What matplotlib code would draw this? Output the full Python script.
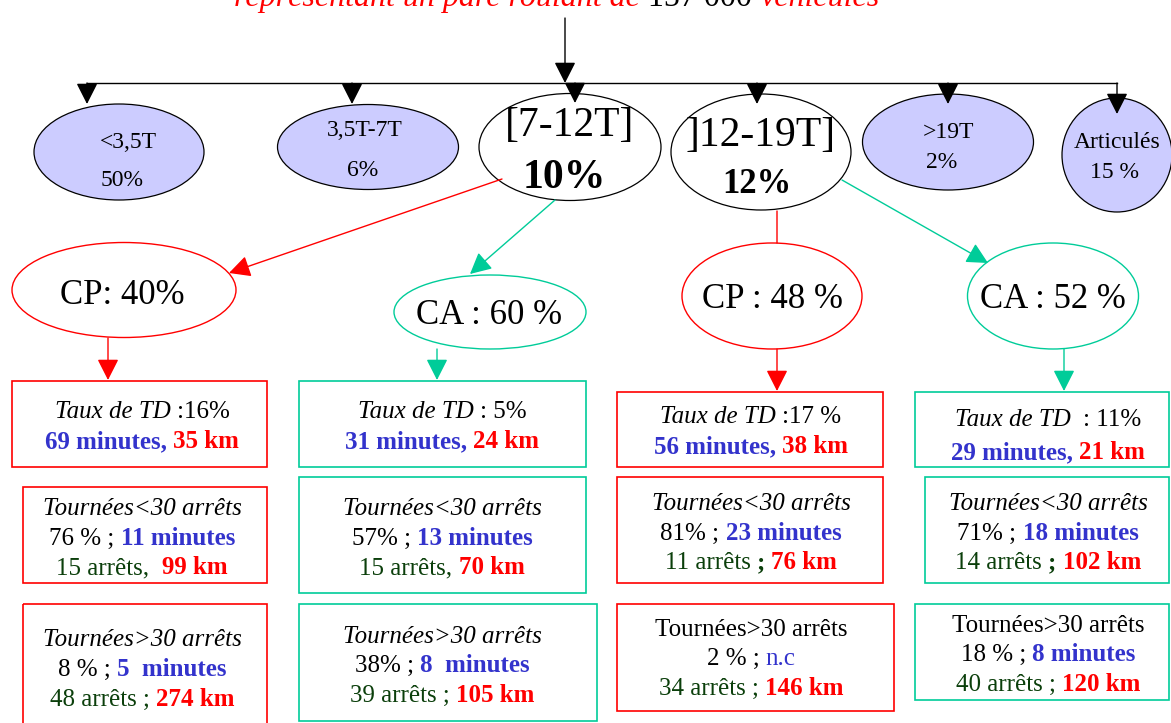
import matplotlib
matplotlib.use('Agg')
import matplotlib.pyplot as plt
from matplotlib.patches import Ellipse, Rectangle

# ---- data ----
title_before = 'représentant un parc roulant de '
fleet_size = '157 000'
title_after = ' véhicules'

tonnage_labels = ['<3,5T', '3,5T-7T', '[7-12T]', ']12-19T]', '>19T', 'Articulés']
tonnage_shares = ['50%', '6%', '10%', '12%', '2%', '15 %']

# CP = compte propre, CA = compte d'autrui
split_labels = ['CP: 40%', 'CA : 60 %', 'CP : 48 %', 'CA : 52 %']

td_rates = [' :16%', ' : 5%', ' :17 %', '  : 11%']
td_minutes = ['69 minutes, ', '31 minutes, ', '56 minutes, ', '29 minutes, ']
td_km = ['35 km', '24 km', '38 km', '21 km']

short_share = ['76 % ; ', '57% ; ', '81% ; ', '71% ; ']
short_minutes = ['11 minutes', '13 minutes', '23 minutes', '18 minutes']
short_stops = ['15 arrêts,  ', '15 arrêts, ', '11 arrêts ', '14 arrêts ']
short_sep = ['', '', '; ', '; ']
short_km = ['99 km', '70 km', '76 km', '102 km']

long_share = ['8 % ; ', '38% ; ', '2 % ; ', '18 % ; ']
long_minutes = ['5  minutes', '8  minutes', 'n.c', '8 minutes']
long_stops = ['48 arrêts ; ', '39 arrêts ; ', '34 arrêts ; ', '40 arrêts ; ']
long_km = ['274 km', '105 km', '146 km', '120 km']

# ---- layout (pixels, y down) ----
W, H = 1171, 723
SERIF = 'Liberation Serif'
RED = '#ff0000'
TEAL = '#00cc99'
BLUE = '#3333cc'
DKGREEN = '#0b3f0b'
LAVENDER = '#ccccff'

top_ell = [(119, 152, 170, 96), (368, 147, 181, 85), (570, 147, 182, 107),
           (761, 152, 180, 116), (948, 142, 171, 96), (1117, 155, 110, 114)]
top_fill = [LAVENDER, LAVENDER, 'white', 'white', LAVENDER, LAVENDER]
top_txt = [((128, 140), (122, 178)), ((365, 128), (363, 168)), ((570, 122), (564, 174)),
           ((761, 132), (757, 182)), ((949, 130), (942, 160)), ((1117, 140), (1115, 170))]
top_size = [(17, 17), (17, 17), (30, 30), (30, 25), (17, 17), (17, 17)]
top_bold = [False, False, True, True, False, False]
drop_x = [87, 352, 575, 757, 948, 1117]
drop_tip = [104, 104, 103, 104, 104, 114]

mid_ell = [(124, 290, 224, 95), (490, 312, 192, 74), (772, 296, 180, 106), (1053, 296, 171, 106)]
mid_txt = [(122, 293), (489, 313), (772, 297), (1053, 297)]
col_color = [RED, TEAL, RED, TEAL]

col_x = [142, 442, 751, 1048]
boxes = [
    [(12, 381, 267, 467), (23, 487, 267, 583), (23, 604, 267, 730)],
    [(299, 381, 586, 467), (299, 477, 586, 593), (299, 604, 597, 721)],
    [(617, 392, 883, 467), (617, 477, 883, 583), (617, 604, 894, 711)],
    [(915, 392, 1169, 467), (925, 477, 1169, 583), (915, 604, 1169, 700)],
]
line_y = [
    [(410, 440), (507, 537, 566), (638, 668, 698)],
    [(410, 440), (507, 537, 566), (635, 664, 694)],
    [(415, 445), (502, 532, 561), (628, 657, 687)],
    [(418, 451), (502, 532, 561), (624, 653, 683)],
]
long_title_italic = [True, True, False, False]
BOX_PT = 18

fig = plt.figure(figsize=(W / 100, H / 100), dpi=100)
ax = fig.add_axes([0, 0, 1, 1])
ax.set_xlim(0, W)
ax.set_ylim(H, 0)
ax.axis('off')
r = fig.canvas.get_renderer()


def px(pt):
    return pt * 100 / 72.0


def measure(s, **kw):
    t = ax.text(0, 0, s, **kw)
    w = t.get_window_extent(r).width
    t.remove()
    return w


def advance(s, **kw):
    return measure('n' + s + 'n', **kw) - measure('nn', **kw)


def rich_line(xc, yc, parts, size):
    # parts: (text, color, weight, style)
    props = [dict(fontsize=size, fontweight=p[2], fontstyle=p[3], family=SERIF) for p in parts]
    advs = [advance(p[0], **kw) for p, kw in zip(parts, props)]
    x = xc - sum(advs) / 2
    yb = yc + 0.33 * px(size)
    for p, kw, a in zip(parts, props, advs):
        core = p[0].lstrip()
        if core.strip():
            lead = p[0][:len(p[0]) - len(core)]
            dx = advance(lead, **kw) if lead else 0
            ax.text(x + dx, yb, core.rstrip(), color=p[1], ha='left', va='baseline', **kw)
        x += a


def arrow(x0, y0, x1, y1, color, head=True):
    style = '-|>,head_length=0.65,head_width=0.33' if head else '-'
    ax.annotate('', xy=(x1, y1), xytext=(x0, y0),
                arrowprops=dict(arrowstyle=style, color=color, lw=1.0,
                                mutation_scale=20, shrinkA=0, shrinkB=0))


# title, cut by the top edge
rich_line(557, -5, [(title_before, RED, 'normal', 'italic'),
                    (fleet_size, 'black', 'normal', 'normal'),
                    (title_after, RED, 'normal', 'italic')], 23)

# tree on top
arrow(565, 18, 565, 83, 'black')
ax.plot([drop_x[0], drop_x[-1]], [83, 83], color='black', lw=1.0)
for i in range(len(tonnage_labels)):
    cx, cy, w, h = top_ell[i]
    ax.add_patch(Ellipse((cx, cy), w, h, facecolor=top_fill[i], edgecolor='black', lw=0.9))
    arrow(drop_x[i], 83, drop_x[i], drop_tip[i], 'black')
    (x1, y1), (x2, y2) = top_txt[i]
    s1, s2 = top_size[i]
    ax.text(x1, y1 + 0.33 * px(s1), tonnage_labels[i], fontsize=s1, family=SERIF,
            ha='center', va='baseline')
    ax.text(x2, y2 + 0.33 * px(s2), tonnage_shares[i], fontsize=s2, family=SERIF,
            fontweight='bold' if top_bold[i] else 'normal', ha='center', va='baseline')

# CP / CA split
arrow(502, 179, 229, 273, RED)
arrow(555, 200, 470, 274, TEAL)
arrow(777, 211, 777, 243, RED, head=False)
arrow(842, 180, 988, 263, TEAL)
for i in range(4):
    cx, cy, w, h = mid_ell[i]
    ax.add_patch(Ellipse((cx, cy), w, h, facecolor='white', edgecolor=col_color[i], lw=1.0))
    tx, ty = mid_txt[i]
    ax.text(tx, ty + 0.33 * px(25), split_labels[i], fontsize=25, family=SERIF,
            ha='center', va='baseline')

arrow(108, 338, 108, 380, RED)
arrow(437, 349, 437, 380, TEAL)
arrow(777, 349, 777, 391, RED)
arrow(1064, 349, 1064, 391, TEAL)

# boxes
for c in range(4):
    for (x0, y0, x1, y1) in boxes[c]:
        ax.add_patch(Rectangle((x0, y0), x1 - x0, y1 - y0, facecolor='none',
                               edgecolor=col_color[c], lw=1.2))
    xc = col_x[c]
    ly = line_y[c]
    rich_line(xc, ly[0][0], [('Taux de TD', 'black', 'normal', 'italic'),
                             (td_rates[c], 'black', 'normal', 'normal')], BOX_PT)
    rich_line(xc, ly[0][1], [(td_minutes[c], BLUE, 'bold', 'normal'),
                             (td_km[c], RED, 'bold', 'normal')], BOX_PT)

    rich_line(xc, ly[1][0], [('Tournées<30 arrêts', 'black', 'normal', 'italic')], BOX_PT)
    rich_line(xc, ly[1][1], [(short_share[c], 'black', 'normal', 'normal'),
                             (short_minutes[c], BLUE, 'bold', 'normal')], BOX_PT)
    rich_line(xc, ly[1][2], [(short_stops[c], DKGREEN, 'normal', 'normal'),
                             (short_sep[c], DKGREEN, 'bold', 'normal'),
                             (short_km[c], RED, 'bold', 'normal')], BOX_PT)

    rich_line(xc, ly[2][0], [('Tournées>30 arrêts', 'black', 'normal',
                              'italic' if long_title_italic[c] else 'normal')], BOX_PT)
    nc = long_minutes[c] == 'n.c'
    rich_line(xc, ly[2][1], [(long_share[c], 'black', 'normal', 'normal'),
                             (long_minutes[c], BLUE, 'normal' if nc else 'bold', 'normal')], BOX_PT)
    rich_line(xc, ly[2][2], [(long_stops[c], DKGREEN, 'normal', 'normal'),
                             (long_km[c], RED, 'bold', 'normal')], BOX_PT)

fig.savefig('out.png', dpi=100)
